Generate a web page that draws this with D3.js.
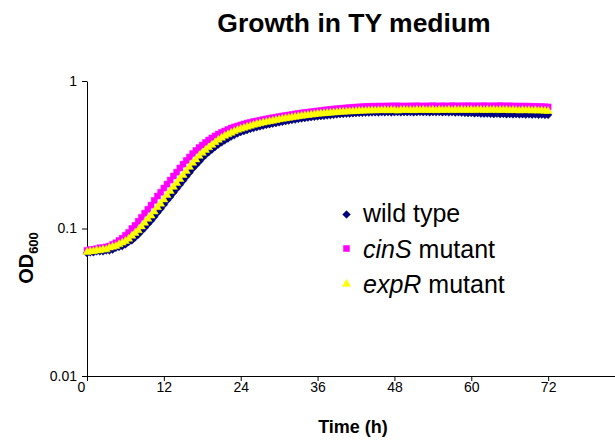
<!DOCTYPE html>
<html>
<head>
<meta charset="utf-8">
<script src="https://cdn.jsdelivr.net/npm/d3@7"></script>
<style>
  body { margin: 0; background: #fff; }
  svg { display: block; font-family: "Liberation Sans", Arial, sans-serif; }
  .axis path, .axis line { stroke: #000; }
  .axis text { font-size: 14px; fill: #000; font-family: "Liberation Sans", Arial, sans-serif; }
</style>
</head>
<body>
<script>
// sampling times (h)
const times = [
  0, 0.5, 1, 1.5, 2, 2.5, 3, 3.5, 4, 4.5,
  5, 5.5, 6, 6.5, 7, 7.5, 8, 8.5, 9, 9.5,
  10, 10.5, 11, 11.5, 12, 12.5, 13, 13.5, 14, 14.5,
  15, 15.5, 16, 16.5, 17, 17.5, 18, 18.5, 19, 19.5,
  20, 20.5, 21, 21.5, 22, 22.5, 23, 23.5, 24, 24.5,
  25, 25.5, 26, 26.5, 27, 27.5, 28, 28.5, 29, 29.5,
  30, 30.5, 31, 31.5, 32, 32.5, 33, 33.5, 34, 34.5,
  35, 35.5, 36, 36.5, 37, 37.5, 38, 38.5, 39, 39.5,
  40, 40.5, 41, 41.5, 42, 42.5, 43, 43.5, 44, 44.5,
  45, 45.5, 46, 46.5, 47, 47.5, 48, 48.5, 49, 49.5,
  50, 50.5, 51, 51.5, 52, 52.5, 53, 53.5, 54, 54.5,
  55, 55.5, 56, 56.5, 57, 57.5, 58, 58.5, 59, 59.5,
  60, 60.5, 61, 61.5, 62, 62.5, 63, 63.5, 64, 64.5,
  65, 65.5, 66, 66.5, 67, 67.5, 68, 68.5, 69, 69.5,
  70, 70.5, 71, 71.5, 72
]

const wildType = [
  0.068, 0.069, 0.069, 0.070, 0.070, 0.070, 0.071, 0.071, 0.072, 0.074,
  0.075, 0.076, 0.078, 0.081, 0.083, 0.087, 0.091, 0.096, 0.101, 0.107,
  0.113, 0.120, 0.128, 0.136, 0.145, 0.155, 0.164, 0.175, 0.186, 0.198,
  0.211, 0.225, 0.239, 0.255, 0.269, 0.284, 0.300, 0.315, 0.330, 0.343,
  0.357, 0.371, 0.383, 0.395, 0.407, 0.420, 0.430, 0.441, 0.451, 0.458,
  0.465, 0.473, 0.480, 0.486, 0.492, 0.498, 0.505, 0.509, 0.514, 0.519,
  0.524, 0.529, 0.534, 0.539, 0.544, 0.548, 0.553, 0.557, 0.561, 0.565,
  0.568, 0.572, 0.575, 0.578, 0.581, 0.584, 0.587, 0.590, 0.593, 0.596,
  0.598, 0.600, 0.602, 0.604, 0.606, 0.607, 0.609, 0.610, 0.611, 0.612,
  0.613, 0.612, 0.614, 0.613, 0.615, 0.612, 0.614, 0.616, 0.613, 0.615,
  0.614, 0.616, 0.613, 0.615, 0.617, 0.614, 0.616, 0.613, 0.615, 0.614,
  0.616, 0.613, 0.615, 0.612, 0.614, 0.611, 0.613, 0.610, 0.608, 0.606,
  0.607, 0.603, 0.605, 0.601, 0.600, 0.602, 0.599, 0.597, 0.600, 0.596,
  0.598, 0.595, 0.597, 0.594, 0.596, 0.593, 0.595, 0.592, 0.594, 0.591,
  0.593, 0.590, 0.592, 0.589, 0.590
]

const cinS = [
  0.071, 0.072, 0.072, 0.073, 0.074, 0.074, 0.075, 0.076, 0.078, 0.080,
  0.083, 0.086, 0.090, 0.094, 0.100, 0.105, 0.112, 0.119, 0.127, 0.135,
  0.144, 0.155, 0.166, 0.176, 0.188, 0.200, 0.213, 0.227, 0.241, 0.257,
  0.273, 0.289, 0.305, 0.322, 0.338, 0.354, 0.368, 0.383, 0.398, 0.411,
  0.424, 0.437, 0.448, 0.458, 0.469, 0.480, 0.488, 0.495, 0.503, 0.511,
  0.518, 0.524, 0.531, 0.536, 0.541, 0.547, 0.553, 0.558, 0.563, 0.568,
  0.573, 0.579, 0.583, 0.588, 0.592, 0.598, 0.602, 0.607, 0.611, 0.614,
  0.618, 0.622, 0.626, 0.630, 0.634, 0.638, 0.641, 0.645, 0.648, 0.651,
  0.654, 0.657, 0.660, 0.662, 0.665, 0.667, 0.669, 0.671, 0.672, 0.674,
  0.673, 0.676, 0.674, 0.677, 0.675, 0.678, 0.676, 0.679, 0.674, 0.677,
  0.675, 0.678, 0.676, 0.679, 0.677, 0.675, 0.678, 0.676, 0.680, 0.677,
  0.675, 0.679, 0.677, 0.676, 0.680, 0.678, 0.675, 0.679, 0.677, 0.680,
  0.678, 0.676, 0.679, 0.677, 0.680, 0.678, 0.676, 0.679, 0.677, 0.681,
  0.678, 0.676, 0.679, 0.675, 0.677, 0.674, 0.676, 0.673, 0.675, 0.671,
  0.673, 0.670, 0.671, 0.668, 0.667
]

const expR = [
  0.069, 0.070, 0.070, 0.071, 0.071, 0.072, 0.072, 0.074, 0.075, 0.076,
  0.078, 0.080, 0.082, 0.085, 0.089, 0.093, 0.097, 0.103, 0.109, 0.116,
  0.122, 0.130, 0.139, 0.147, 0.157, 0.168, 0.179, 0.191, 0.203, 0.216,
  0.230, 0.245, 0.261, 0.278, 0.293, 0.310, 0.325, 0.340, 0.354, 0.368,
  0.383, 0.398, 0.411, 0.424, 0.434, 0.444, 0.455, 0.465, 0.473, 0.480,
  0.488, 0.495, 0.503, 0.509, 0.515, 0.521, 0.527, 0.532, 0.537, 0.542,
  0.548, 0.553, 0.557, 0.561, 0.566, 0.570, 0.575, 0.579, 0.583, 0.587,
  0.590, 0.594, 0.598, 0.600, 0.603, 0.606, 0.608, 0.611, 0.613, 0.616,
  0.617, 0.619, 0.621, 0.622, 0.624, 0.626, 0.627, 0.628, 0.629, 0.631,
  0.630, 0.633, 0.632, 0.634, 0.631, 0.635, 0.633, 0.628, 0.634, 0.636,
  0.633, 0.635, 0.632, 0.636, 0.634, 0.637, 0.633, 0.635, 0.636, 0.632,
  0.637, 0.635, 0.634, 0.638, 0.633, 0.636, 0.635, 0.638, 0.634, 0.636,
  0.637, 0.633, 0.638, 0.636, 0.634, 0.637, 0.635, 0.638, 0.633, 0.636,
  0.634, 0.637, 0.632, 0.635, 0.633, 0.630, 0.634, 0.631, 0.633, 0.629,
  0.632, 0.628, 0.630, 0.626, 0.625
]

const xTicks = [0, 12, 24, 36, 48, 60, 72]
const yTicks = [0.01, 0.1, 1]
const yTickLabels = ['0.01', '0.1', '1']

const seriesNames = ['wild type', 'cinS', 'expR']
const seriesValues = [wildType, cinS, expR]

const w = 615
const h = 441

const svg = d3.select('body')
  .append('svg')
  .attr('width', w)
  .attr('height', h)

const xScale = d3.scaleLinear()
  .domain([0, 84])
  .range([87, 625])

const yScale = d3.scaleLog()
  .domain([0.01, 1])
  .range([376, 81])

// series styles
const styles = [
  { color: '#000080', shape: d3.symbolSquare, size: 30, rotate: 45 },
  { color: '#ff00ff', shape: d3.symbolSquare, size: 36, rotate: 0 },
  { color: '#ffff00', shape: d3.symbolTriangle, size: 28, rotate: 0 }
]

// axes
const xAxis = d3.axisBottom(xScale)
  .tickValues(xTicks)
  .tickSize(5)
  .tickSizeOuter(0)
  .tickPadding(1)

const yAxis = d3.axisLeft(yScale)
  .tickValues(yTicks)
  .tickFormat((d, i) => yTickLabels[i])
  .tickSize(5)
  .tickSizeOuter(0)
  .tickPadding(5)

const gx = svg.append('g')
  .attr('class', 'axis x-axis')
  .attr('transform', 'translate(0,' + yScale(0.01) + ')')
  .call(xAxis)

// the "0" label sits a little left of its tick, clear of the y axis
gx.selectAll('.tick text').filter(d => d === 0).attr('dx', -6)

svg.append('g')
  .attr('class', 'axis y-axis')
  .attr('transform', 'translate(' + xScale(0) + ',0)')
  .call(yAxis)

// markers, drawn in series order
seriesValues.forEach((vals, s) => {
  const st = styles[s]
  const sym = d3.symbol().type(st.shape).size(st.size)
  svg.append('g')
    .attr('class', 'series')
    .selectAll('path')
    .data(vals.map((v, i) => [times[i], v]))
    .enter()
    .append('path')
    .attr('d', sym)
    .attr('fill', st.color)
    .attr('stroke', st.color)
    .attr('stroke-width', 0.5)
    .attr('transform', d => 'translate(' + xScale(d[0]) + ',' + yScale(d[1]) + ') rotate(' + st.rotate + ')')
})

// title
svg.append('text')
  .attr('x', 354)
  .attr('y', 32)
  .attr('text-anchor', 'middle')
  .style('font-size', '26.5px')
  .style('font-weight', 'bold')
  .text('Growth in TY medium')

// x title
svg.append('text')
  .attr('x', 353)
  .attr('y', 433)
  .attr('text-anchor', 'middle')
  .style('font-size', '18px')
  .style('font-weight', 'bold')
  .text('Time (h)')

// y title with subscript
const yTitle = svg.append('text')
  .attr('transform', 'translate(33,258) rotate(-90)')
  .attr('text-anchor', 'middle')
  .style('font-weight', 'bold')
yTitle.append('tspan').style('font-size', '20px').text('OD')
yTitle.append('tspan').style('font-size', '13px').attr('dy', 5).text('600')

// legend
const legendY = [214.5, 248.5, 284]
const legendBase = [222, 257.5, 292.5]
const legend = svg.append('g').attr('class', 'legend')

seriesNames.forEach((name, s) => {
  const st = styles[s]
  legend.append('path')
    .attr('d', d3.symbol().type(st.shape).size(st.size)())
    .attr('fill', st.color)
    .attr('stroke', st.color)
    .attr('stroke-width', 0.5)
    .attr('transform', 'translate(346.5,' + legendY[s] + ') rotate(' + st.rotate + ')')

  const t = legend.append('text')
    .attr('x', 363)
    .attr('y', legendBase[s])
    .style('font-size', '25px')
  if (s === 0) {
    t.text(name)
  } else {
    t.append('tspan').style('font-style', 'italic').text(name)
    t.append('tspan').text(' mutant')
  }
})
</script>
</body>
</html>
